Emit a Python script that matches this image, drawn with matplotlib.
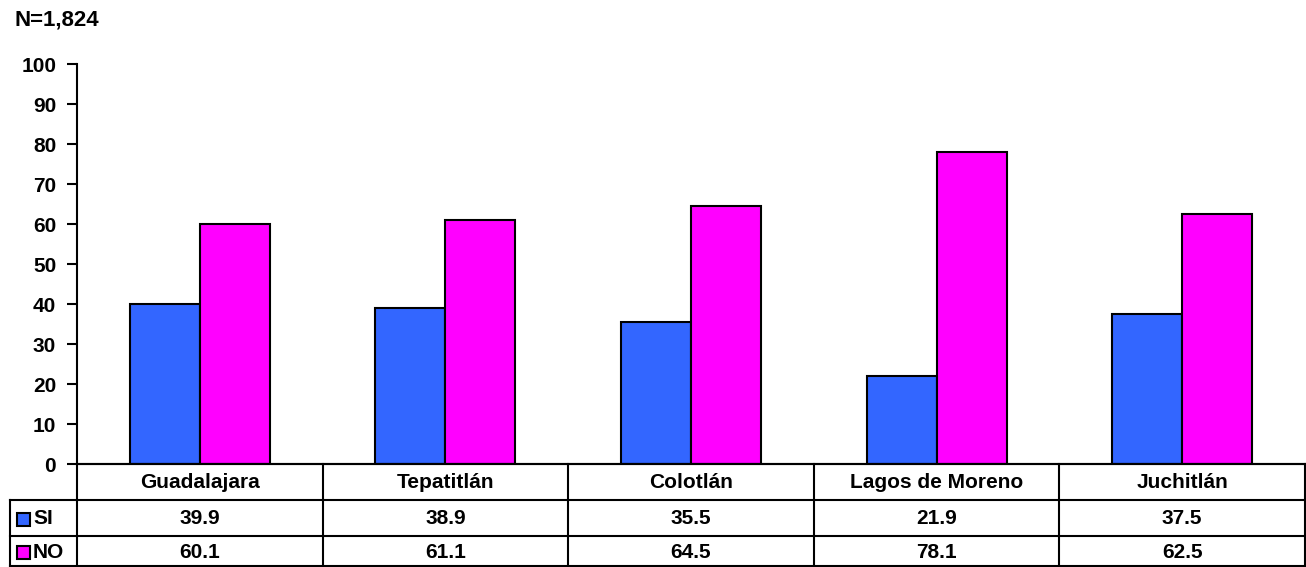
import matplotlib.pyplot as plt
from matplotlib.patches import Rectangle
from matplotlib.lines import Line2D

plt.rcParams['font.family'] = ['Liberation Sans', 'DejaVu Sans']
plt.rcParams['font.weight'] = 'bold'

ciudades = ['Guadalajara', 'Tepatitlán', 'Colotlán', 'Lagos de Moreno', 'Juchitlán']
si = [39.9, 38.9, 35.5, 21.9, 37.5]
no = [60.1, 61.1, 64.5, 78.1, 62.5]
series = ['SI', 'NO']
colores = ['#3366FF', '#FF00FF']

W, H = 1306, 567
fig = plt.figure(figsize=(W / 100, H / 100), dpi=100)

# posiciones en pixeles -> fraccion de figura
x0, x1 = 77, 1305
y_top, y_cero = 64, 464
ax = fig.add_axes([x0 / W, 1 - y_cero / H, (x1 - x0) / W, (y_cero - y_top) / H])

n = len(ciudades)
ancho = 0.285
pos = [i + 0.5 for i in range(n)]
ax.bar([p - ancho / 2 for p in pos], si, width=ancho, color=colores[0],
       edgecolor='black', linewidth=1.5)
ax.bar([p + ancho / 2 for p in pos], no, width=ancho, color=colores[1],
       edgecolor='black', linewidth=1.5)

ax.set_xlim(0, n)
ax.set_ylim(0, 100)
ax.set_yticks(range(0, 101, 10))
ax.set_xticks([])
ax.tick_params(axis='y', direction='out', length=7, width=1.5, labelsize=15, pad=8)
for lbl in ax.get_yticklabels():
    lbl.set_fontweight('bold')
for s in ['top', 'right']:
    ax.spines[s].set_visible(False)
ax.spines['left'].set_linewidth(1.5)
ax.spines['bottom'].set_linewidth(1.5)

fig.text(14 / W, 1 - 20 / H, 'N=1,824', fontsize=16, fontweight='bold', va='center')

# tabla de datos debajo del eje
def fy(py):
    return 1 - py / H

def fx(px):
    return px / W

fs = 15
lw = 1.5
filas = [464, 500, 536, 566]
xl = 10
lineas = []
# horizontales
lineas.append(([x0, x1], [filas[0], filas[0]]))
for py in filas[1:]:
    lineas.append(([xl, x1], [py, py]))
# verticales
lineas.append(([xl, xl], [filas[1], filas[3]]))
for i in range(n + 1):
    px = x0 + i * (x1 - x0) / n
    lineas.append(([px, px], [filas[0], filas[3]]))
for xs, ys in lineas:
    fig.add_artist(Line2D([fx(v) for v in xs], [fy(v) for v in ys],
                          color='black', linewidth=lw))

for i, c in enumerate(ciudades):
    cx = x0 + (i + 0.5) * (x1 - x0) / n
    fig.text(fx(cx), fy((filas[0] + filas[1]) / 2 + 1), c, ha='center', va='center',
             fontsize=fs, fontweight='bold')
    for j, vals in enumerate([si, no]):
        fig.text(fx(cx), fy((filas[j + 1] + filas[j + 2]) / 2 + 1), f'{vals[i]:.1f}',
                 ha='center', va='center', fontsize=fs, fontweight='bold')

for j, (s, col) in enumerate(zip(series, colores)):
    cy = (filas[j + 1] + filas[j + 2]) / 2
    fig.add_artist(Rectangle((fx(17), fy(cy + 8)), 13 / W, 13 / H, facecolor=col,
                             edgecolor='black', linewidth=1.5))
    fig.text(fx(33), fy(cy + 1), s, ha='left', va='center', fontsize=fs, fontweight='bold')

fig.savefig('out.png', dpi=100)
